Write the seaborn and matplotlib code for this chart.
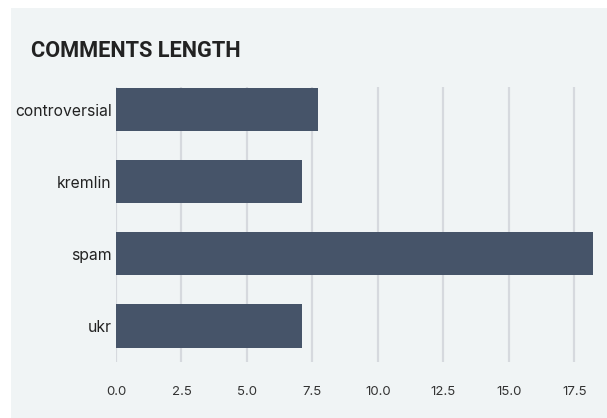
import matplotlib
matplotlib.use("Agg")
import matplotlib.pyplot as plt
from matplotlib.patches import Rectangle
import seaborn as sns
import pandas as pd

# Average comment length per category
categories = ["controversial", "kremlin", "spam", "ukr"]
lengths = [7.71, 7.10, 18.21, 7.10]
x_ticks = [0.0, 2.5, 5.0, 7.5, 10.0, 12.5, 15.0, 17.5]
title = "COMMENTS LENGTH"

df = pd.DataFrame({"category": categories, "length": lengths})

BG = "#f0f4f5"
BAR = "#465469"
GRID = "#d6d9de"

sns.set_theme(style="white")
plt.rcParams["font.family"] = ["Inter", "DejaVu Sans"]

fig = plt.figure(figsize=(6.07, 4.18), dpi=100)
fig.patch.set_facecolor("white")
# panel background
fig.patches.append(Rectangle((11 / 607, 0), 1 - 11 / 607, 1 - 8 / 418,
                             transform=fig.transFigure, facecolor=BG,
                             edgecolor="none", zorder=-10))

ax = fig.add_axes([116 / 607, 56 / 418, 477 / 607, 275 / 418])
ax.set_facecolor("none")

sns.barplot(data=df, x="length", y="category", orient="h", color=BAR,
            saturation=1, width=0.6, linewidth=0, edgecolor=BAR, ax=ax, zorder=3)

ax.set_xlim(0, max(lengths))
ax.set_ylim(len(categories) - 0.5, -0.3125)
ax.set_xticks(x_ticks)
ax.set_xticklabels([f"{t:.1f}" for t in x_ticks])
for t in x_ticks:
    ax.axvline(t, color=GRID, lw=1.6, zorder=1)

for s in ax.spines.values():
    s.set_visible(False)
ax.set_xlabel("")
ax.set_ylabel("")
ax.tick_params(axis="x", length=0, pad=17, labelsize=9.5, labelcolor="#333333")
ax.tick_params(axis="y", length=0, pad=3, labelsize=11.3, labelcolor="#222222")

fig.text(31 / 607, 1 - 51 / 418, title, family=["Roboto", "DejaVu Sans"],
         fontweight="bold", fontsize=15.7, color="#222222", va="center", ha="left")

fig.savefig("out.png", dpi=100)
